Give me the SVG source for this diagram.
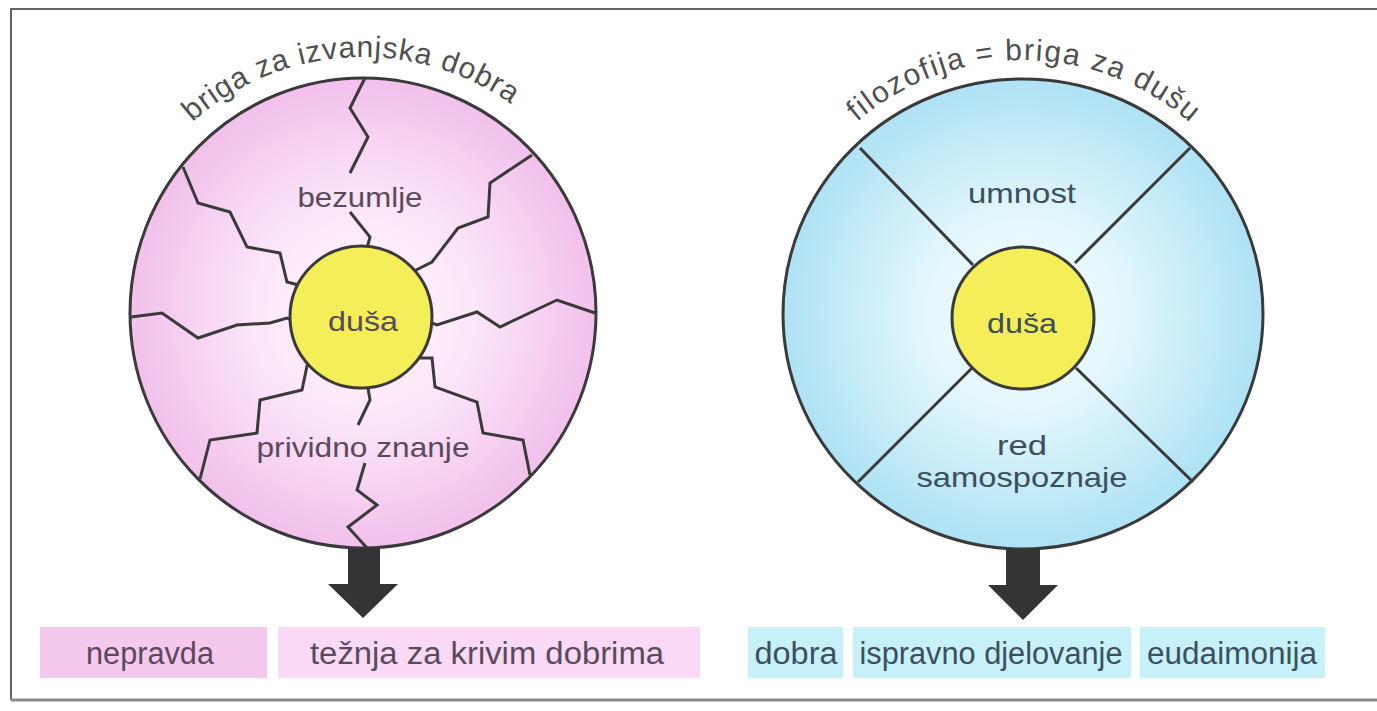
<svg xmlns="http://www.w3.org/2000/svg" xmlns:xlink="http://www.w3.org/1999/xlink" width="1377" height="711" viewBox="0 0 1377 711">
<defs>
<radialGradient id="gPink" cx="50%" cy="50%" r="50%">
<stop offset="0" stop-color="#fff8fe"/>
<stop offset="0.5" stop-color="#fbe4f8"/>
<stop offset="1" stop-color="#f2c0ec"/>
</radialGradient>
<radialGradient id="gBlue" cx="50%" cy="50%" r="50%">
<stop offset="0" stop-color="#f8feff"/>
<stop offset="0.45" stop-color="#e0f6fc"/>
<stop offset="1" stop-color="#aee2f4"/>
</radialGradient>
<path id="arcL" d="M 107,313 A 256,256 0 0 1 619,313"/>
<path id="arcR" d="M 769,314 A 254,254 0 0 1 1277,314"/>
</defs>
<style>
.ol{stroke:#3a3a3a;stroke-width:3}
.crack{fill:none;stroke:#3a3a3a;stroke-width:3;stroke-linejoin:miter}
.yel{fill:#f4ef58;stroke:#3a3a3a;stroke-width:3}
.t{font-family:"Liberation Sans",Arial,sans-serif;text-anchor:middle}
.lbl{font-size:28px}
.pk{fill:#5a4a5c}
.bl{fill:#3d4f5e}
.arc{font-size:30px;fill:#505050}
.bot{font-size:31px}
.arrow{fill:#343434}
</style>
<rect x="0" y="0" width="1377" height="711" fill="#ffffff"/>
<g id="frame" fill="none">
<path d="M 1377,9 L 11,9 L 11,700" stroke="#666" stroke-width="2"/>
<path d="M 11,700 L 1377,700" stroke="#8a8a8a" stroke-width="3"/>
</g>

<g id="left-circle">
<ellipse cx="363" cy="313" rx="233" ry="235" fill="url(#gPink)" class="ol"/>
<text class="t arc" letter-spacing="0.9"><textPath xlink:href="#arcL" startOffset="388">briga za izvanjska dobra</textPath></text>
</g>

<g id="right-circle">
<ellipse cx="1023" cy="314" rx="240" ry="235" fill="url(#gBlue)" class="ol"/>
<text class="t arc" letter-spacing="1.6"><textPath xlink:href="#arcR" startOffset="400">filozofija = briga za dušu</textPath></text>
</g>

<g id="connectors">
<polyline class="crack" points="365,78 350,108 368,137 350,173"/>
<polyline class="crack" points="350,212 370,237 363,263"/>
<polyline class="crack" points="183,167 198,203 230,212 247,247 280,253 287,282 310,288"/>
<polyline class="crack" points="532,155 490,183 488,217 458,228 432,262 402,277"/>
<polyline class="crack" points="595,313 557,300 500,327 477,312 437,325 418,318"/>
<polyline class="crack" points="131,317 162,313 198,338 237,325 270,323 287,318 300,325"/>
<polyline class="crack" points="200,479 210,440 257,433 260,400 302,390 307,366 323,358"/>
<polyline class="crack" points="358,378 368,388 370,400 358,425"/>
<polyline class="crack" points="365,463 357,490 377,505 348,527 367,548"/>
<polyline class="crack" points="400,358 432,358 435,387 477,402 483,433 523,440 530,475"/>
<line class="ol" x1="860" y1="148" x2="973" y2="265"/>
<line class="ol" x1="1190" y1="148" x2="1075" y2="263"/>
<line class="ol" x1="972" y1="368" x2="858" y2="482"/>
<line class="ol" x1="1076" y1="368" x2="1193" y2="482"/>
<polygon class="arrow" points="348,548 380,548 380,584 398,584 363,618 328,584 348,584"/>
<polygon class="arrow" points="1006,549 1040,549 1040,585 1058,585 1023,620 988,585 1006,585"/>
</g>

<g id="left-soul">
<circle cx="361" cy="317" r="71" class="yel"/>
<text class="t lbl pk" x="363" y="331" textLength="70" lengthAdjust="spacingAndGlyphs">duša</text>
</g>
<g id="left-top-label">
<text class="t lbl pk" x="360" y="207" textLength="125" lengthAdjust="spacingAndGlyphs">bezumlje</text>
</g>
<g id="left-bottom-label">
<text class="t lbl pk" x="363" y="457" textLength="213" lengthAdjust="spacingAndGlyphs">prividno znanje</text>
</g>

<g id="right-soul">
<circle cx="1023" cy="318" r="71" class="yel"/>
<text class="t lbl bl" x="1022" y="333" textLength="70" lengthAdjust="spacingAndGlyphs">duša</text>
</g>
<g id="right-top-label">
<text class="t lbl bl" x="1022" y="203" textLength="108" lengthAdjust="spacingAndGlyphs">umnost</text>
</g>
<g id="right-bottom-label">
<text class="t lbl bl" x="1022" y="455" textLength="50" lengthAdjust="spacingAndGlyphs">red</text>
<text class="t lbl bl" x="1022" y="487" textLength="211" lengthAdjust="spacingAndGlyphs">samospoznaje</text>
</g>

<g id="box-nepravda">
<rect x="40" y="627" width="227" height="51" fill="#f5c8ee"/>
<text class="t bot pk" x="150" y="664" textLength="128" lengthAdjust="spacingAndGlyphs">nepravda</text>
</g>
<g id="box-teznja">
<rect x="278" y="627" width="422" height="51" fill="#f9d9f5"/>
<text class="t bot pk" x="487" y="664" textLength="354" lengthAdjust="spacingAndGlyphs">težnja za krivim dobrima</text>
</g>
<g id="box-dobra">
<rect x="748" y="627" width="95" height="51" fill="#c6f1f9"/>
<text class="t bot bl" x="796" y="664" textLength="83" lengthAdjust="spacingAndGlyphs">dobra</text>
</g>
<g id="box-ispravno">
<rect x="853" y="627" width="278" height="51" fill="#c6f1f9"/>
<text class="t bot bl" x="991" y="664" textLength="263" lengthAdjust="spacingAndGlyphs">ispravno djelovanje</text>
</g>
<g id="box-eudaimonija">
<rect x="1140" y="627" width="185" height="51" fill="#c6f1f9"/>
<text class="t bot bl" x="1232" y="664" textLength="170" lengthAdjust="spacingAndGlyphs">eudaimonija</text>
</g>
</svg>
